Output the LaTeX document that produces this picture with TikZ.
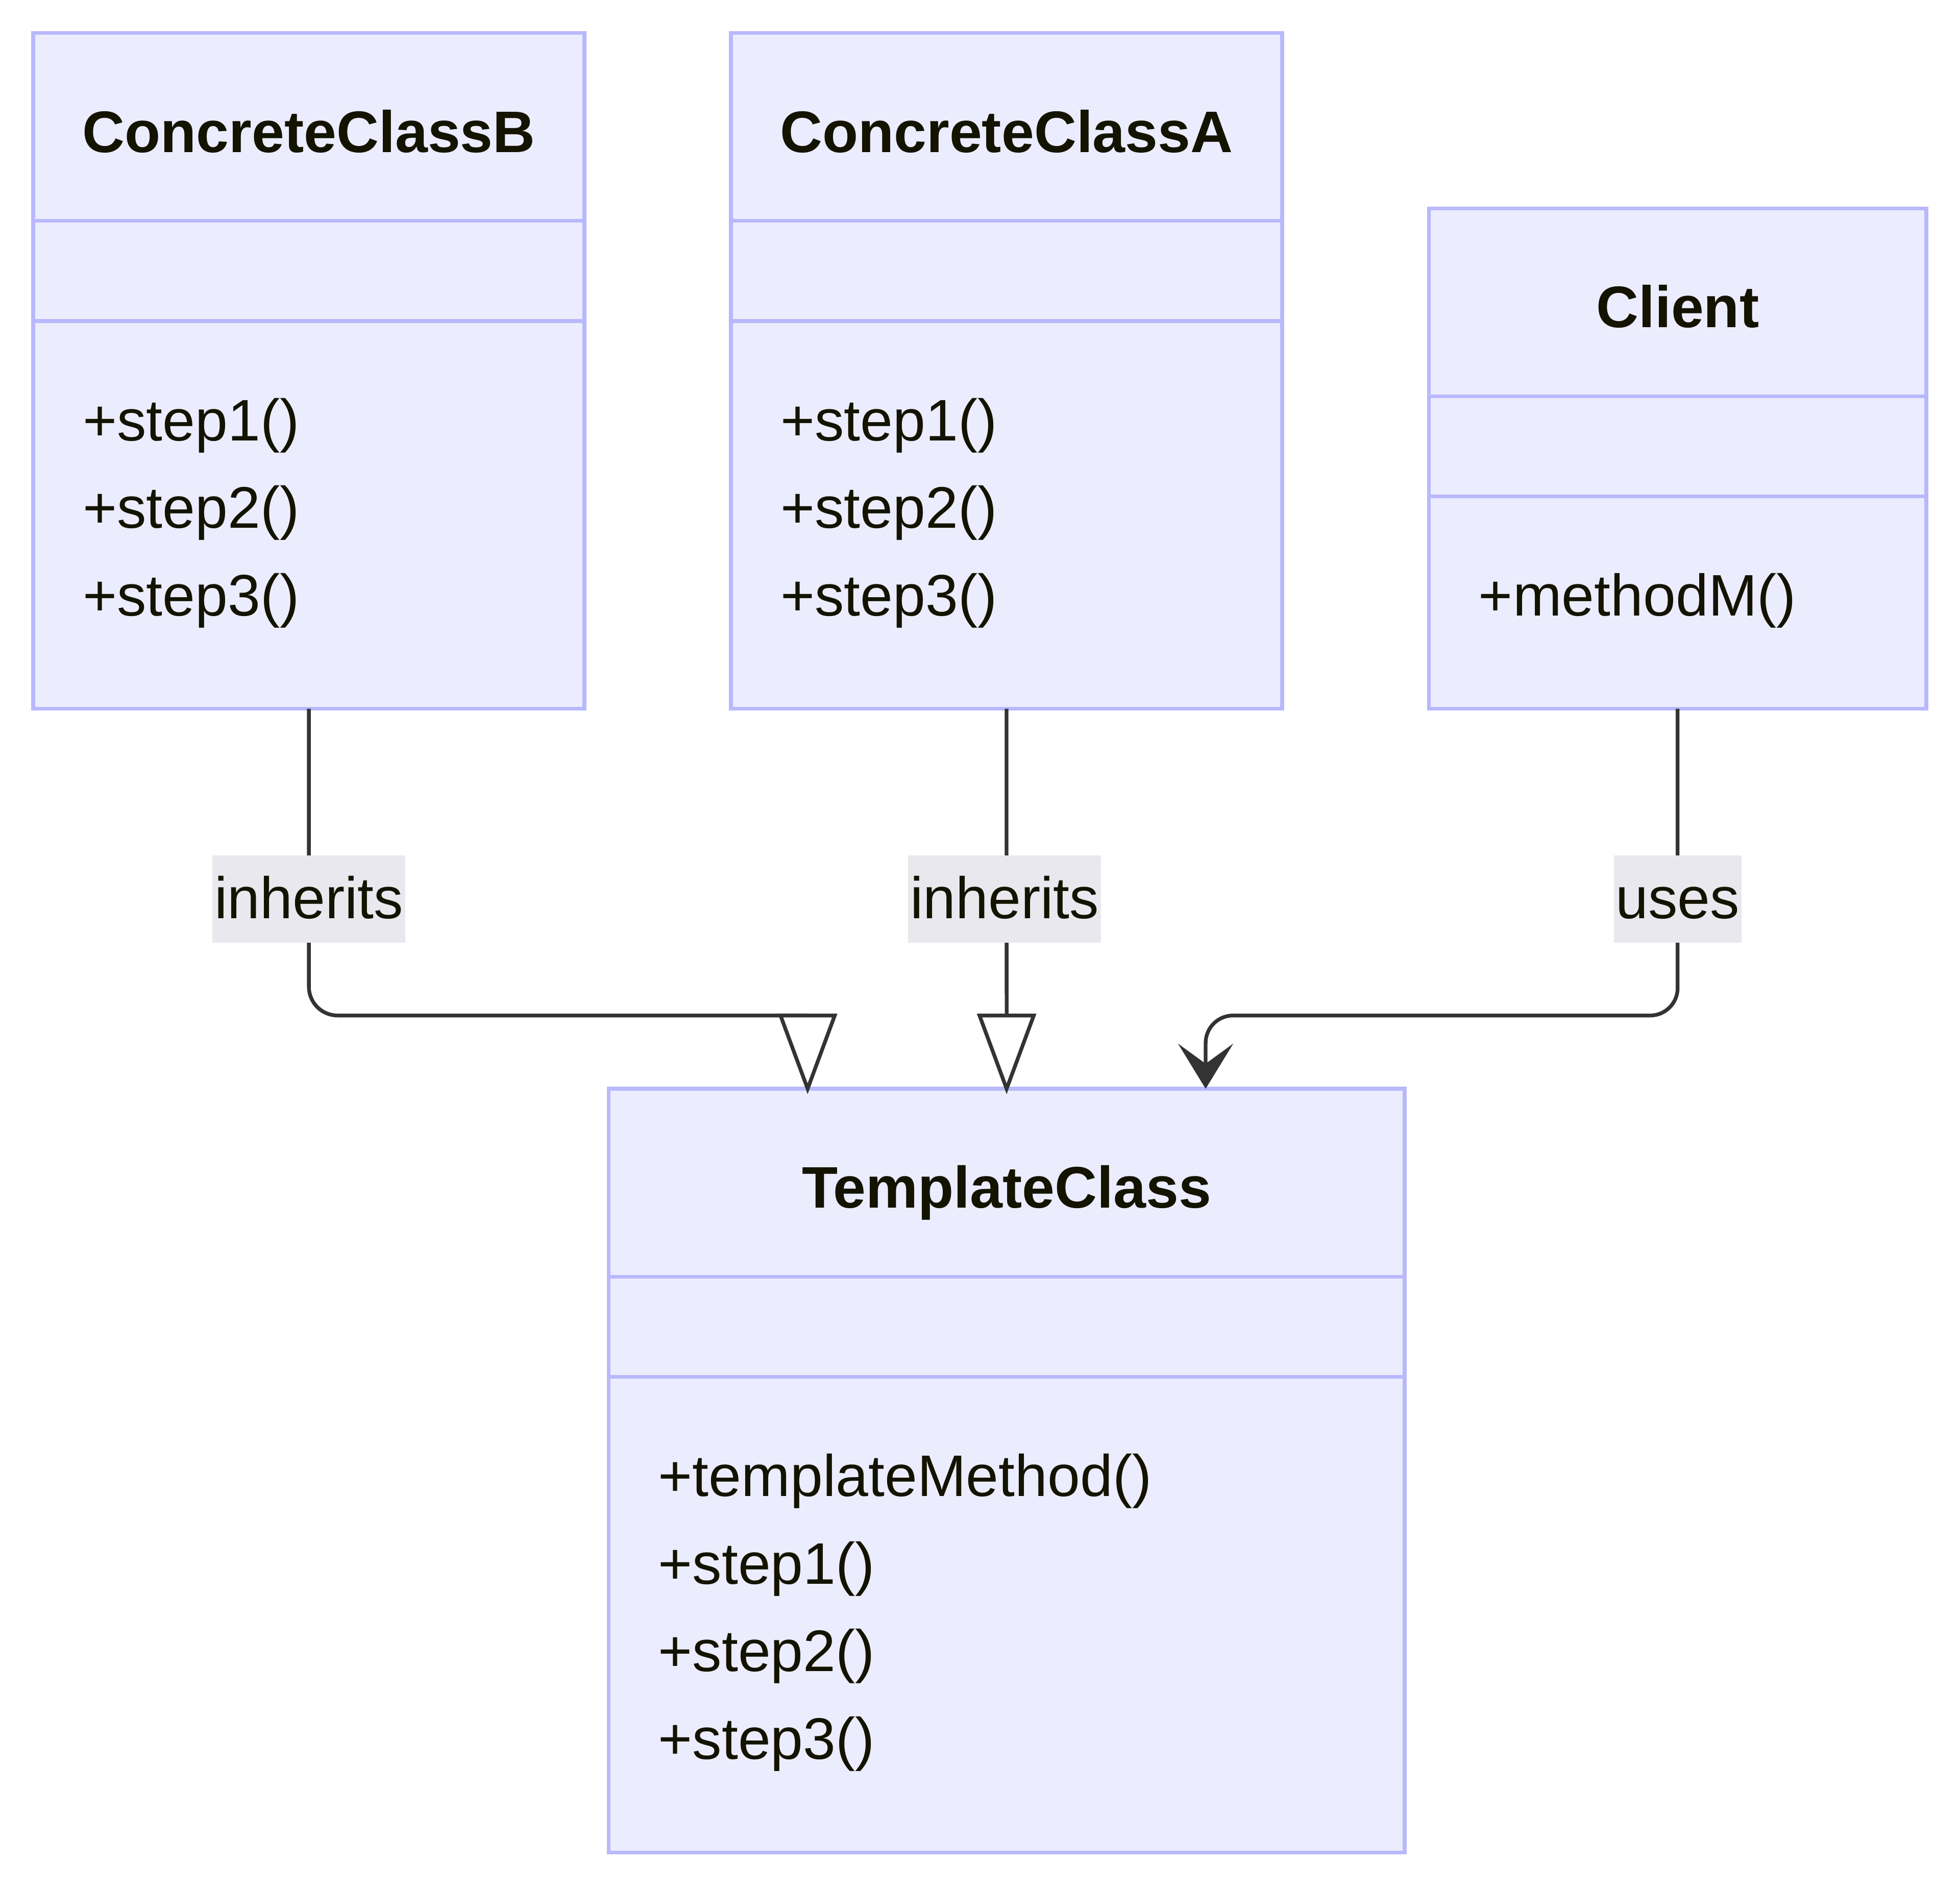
\documentclass[tikz,border=0pt]{standalone}
\usepackage{fontspec}
\setmainfont{Liberation Sans}
\usetikzlibrary{arrows.meta,calc}
\definecolor{clsfill}{HTML}{ECECFF}
\definecolor{clsborder}{RGB}{184,184,252}
\definecolor{lblbg}{HTML}{E8E8EE}
\definecolor{txt}{HTML}{131300}
\definecolor{edgec}{HTML}{333333}
\begin{document}
\begin{tikzpicture}[x=1pt,y=-1pt,
  cls/.style={draw=clsborder, fill=clsfill, line width=3pt, rectangle, inner sep=0pt, outer sep=0pt, anchor=north west},
  divider/.style={draw=clsborder, line width=3pt},
  title/.style={font=\fontsize{46.9}{56}\selectfont\bfseries, text=txt, anchor=base, inner sep=0pt},
  member/.style={font=\fontsize{46.9}{56}\selectfont, text=txt, anchor=base west, inner sep=0pt},
  edge/.style={draw=edgec, line width=3pt},
  lbl/.style={fill=lblbg, font=\fontsize{46.9}{56}\selectfont, text=txt, inner xsep=1.5pt, inner ysep=0pt, minimum height=70pt, text height=31pt, text depth=0pt},
  tri/.style={edge, fill=white, line join=miter},
]
\useasboundingbox (0,0) rectangle (1568,1510.4);

% class boxes
\node[cls, minimum width=441pt, minimum height=540.6pt] (B) at (26.6,26.4) {};
\node[cls, minimum width=441pt, minimum height=540.6pt] (A) at (584.7,26.4) {};
\node[cls, minimum width=397.8pt, minimum height=400.3pt] (C) at (1143.2,166.7) {};
\node[cls, minimum width=636.8pt, minimum height=611pt] (T) at (486.9,871) {};

% dividers
\foreach \n in {B,A,C,T}{
  \draw[divider] ($(\n.north west)+(0,150.3)$) -- ($(\n.north east)+(0,150.3)$);
  \draw[divider] ($(\n.north west)+(0,230.5)$) -- ($(\n.north east)+(0,230.5)$);
}

% titles
\node[title] (Bt) at ($(B.north)+(0,95.4)$) {ConcreteClassB};
\node[title] (At) at ($(A.north)+(0,95.4)$) {ConcreteClassA};
\node[title] (Ct) at ($(C.north)+(0,95.4)$) {Client};
\node[title] (Tt) at ($(T.north)+(0,95.4)$) {TemplateClass};

% members
\node[member] (Bm1) at ($(B.north west)+(39.5,326.1)$) {+step1()};
\node[member] (Bm2) at ($(B.north west)+(39.5,396.1)$) {+step2()};
\node[member] (Bm3) at ($(B.north west)+(39.5,466.1)$) {+step3()};
\node[member] (Am1) at ($(A.north west)+(39.5,326.1)$) {+step1()};
\node[member] (Am2) at ($(A.north west)+(39.5,396.1)$) {+step2()};
\node[member] (Am3) at ($(A.north west)+(39.5,466.1)$) {+step3()};
\node[member] (Cm1) at ($(C.north west)+(39.5,326.1)$) {+methodM()};
\node[member] (Tm1) at ($(T.north west)+(39.5,326.1)$) {+templateMethod()};
\node[member] (Tm2) at ($(T.north west)+(39.5,396.1)$) {+step1()};
\node[member] (Tm3) at ($(T.north west)+(39.5,466.1)$) {+step2()};
\node[member] (Tm4) at ($(T.north west)+(39.5,536.1)$) {+step3()};

% connector end points
\coordinate (tB) at ($(T.north west)!0.25!(T.north east)+(0,-58.6)$);
\coordinate (tA) at ($(T.north west)!0.5!(T.north east)+(0,-58.6)$);
\coordinate (tC) at ($(T.north west)!0.75!(T.north east)+(0,-58.6)$);

% connectors
\draw[edge, rounded corners=23pt] (B.south) |- (tB);
\draw[tri] ($(tB)+(-21.7,0)$) -- ($(tB)+(21.7,0)$) -- (tB |- T.north) -- cycle;
\draw[edge] (A.south) -- (tA);
\draw[tri] ($(tA)+(-21.7,0)$) -- ($(tA)+(21.7,0)$) -- (tA |- T.north) -- cycle;
\draw[edge, -{Stealth[length=36pt,width=44pt,inset=16pt]}] (C.south) [rounded corners=22pt] |- (tC) -- (tC |- T.north);

% labels
\node[lbl] (lB) at ($(B.south)+(0,152.3)$) {inherits};
\node[lbl] (lA) at ($(A.south)+(-1.5,152.3)$) {inherits};
\node[lbl] (lC) at ($(C.south)+(0,152.3)$) {uses};
\end{tikzpicture}
\end{document}
